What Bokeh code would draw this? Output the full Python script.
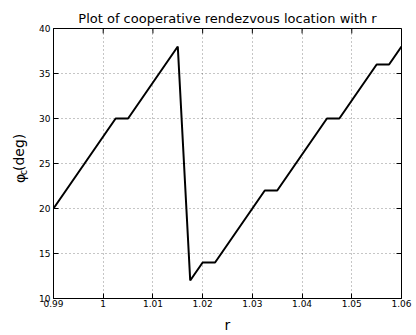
import math
from bokeh.plotting import figure
from bokeh.layouts import row
from bokeh.models import Range1d, Label, FixedTicker
from bokeh.embed import file_html
from bokeh.resources import INLINE

# data
r_values = [0.99, 1.0025, 1.005, 1.015, 1.0175, 1.02, 1.0225, 1.0325, 1.035, 1.045, 1.0475, 1.055, 1.0575, 1.06]
phi_values = [20, 30, 30, 38, 12, 14, 14, 22, 22, 30, 30, 36, 36, 38]

x_ticks = [0.99, 1.0, 1.01, 1.02, 1.03, 1.04, 1.05, 1.06]
x_tick_labels = ["0.99", "1", "1.01", "1.02", "1.03", "1.04", "1.05", "1.06"]
y_ticks = [10, 15, 20, 25, 30, 35, 40]
y_tick_labels = ["10", "15", "20", "25", "30", "35", "40"]

FONT = "DejaVu Sans"
LABEL_W = 30
X_MIN, X_MAX = 0.99, 1.06
Y_MIN, Y_MAX = 10, 40

# narrow panel that carries the rotated y-axis title  phi_c (deg)
lab = figure(width=LABEL_W, height=335, output_backend="svg", toolbar_location=None,
             x_range=Range1d(0, LABEL_W), y_range=Range1d(335, 0),
             min_border=0, outline_line_color=None)
lab.axis.visible = False
lab.grid.visible = False
lab.background_fill_color = "white"
lab.border_fill_color = "white"
for txt, x, y, size in [("φ", 19, 186, "14px"), ("c", 23, 178.8, "10px"), ("(deg)", 18.5, 153.7, "14px")]:
    lab.add_layout(Label(x=x, y=y, text=txt, angle=math.pi / 2,
                         text_align="center", text_baseline="middle",
                         text_font=FONT, text_font_size=size, text_color="black"))

p = figure(width=416 - LABEL_W, height=335, output_backend="svg", toolbar_location=None,
           x_range=Range1d(X_MIN, X_MAX), y_range=Range1d(Y_MIN, Y_MAX),
           min_border_left=53 - LABEL_W, min_border_right=15, min_border_top=28, min_border_bottom=34,
           title="Plot of cooperative rendezvous location with r")
p.background_fill_color = "white"
p.border_fill_color = "white"
p.outline_line_color = "black"
p.outline_line_width = 1

p.title.text_font = FONT
p.title.text_font_size = "13px"
p.title.text_font_style = "normal"
p.title.text_color = "black"
p.title.align = "center"
p.title.standoff = 5

for g in p.grid:
    g.grid_line_color = "black"
    g.grid_line_alpha = 0.45
    g.grid_line_dash = "1 3"
    g.grid_line_width = 1
p.xgrid.ticker = FixedTicker(ticks=x_ticks)
p.ygrid.ticker = FixedTicker(ticks=y_ticks)

p.line(r_values, phi_values, line_color="black", line_width=2)

def style_axis(ax, ticks, labels):
    ax.ticker = FixedTicker(ticks=ticks)
    ax.major_label_overrides = {t: l for t, l in zip(ticks, labels)}
    ax.major_tick_in = 5
    ax.major_tick_out = 0
    ax.minor_tick_line_color = None
    ax.axis_line_color = "black"
    ax.major_tick_line_color = "black"
    ax.major_label_text_font = FONT
    ax.major_label_text_font_size = "9px"
    ax.major_label_text_color = "black"
    ax.major_label_standoff = 3

style_axis(p.xaxis[0], x_ticks, x_tick_labels)
style_axis(p.yaxis[0], y_ticks, y_tick_labels)
p.xaxis[0].major_label_standoff = 1
p.xaxis[0].axis_label = "r"
p.xaxis[0].axis_label_text_font = FONT
p.xaxis[0].axis_label_text_font_size = "14px"
p.xaxis[0].axis_label_text_font_style = "normal"
p.xaxis[0].axis_label_text_color = "black"
p.xaxis[0].axis_label_standoff = 7

# mirrored inward ticks on the top and right edges of the box
tick_dy = 5 * (Y_MAX - Y_MIN) / 273.0
tick_dx = 5 * (X_MAX - X_MIN) / 348.0
p.segment(x0=x_ticks, y0=[Y_MAX] * len(x_ticks), x1=x_ticks, y1=[Y_MAX - tick_dy] * len(x_ticks),
          line_color="black", line_width=1)
p.segment(x0=[X_MAX] * len(y_ticks), y0=y_ticks, x1=[X_MAX - tick_dx] * len(y_ticks), y1=y_ticks,
          line_color="black", line_width=1)

layout = row(lab, p, spacing=0)
open("out.html", "w").write(file_html(layout, INLINE))
